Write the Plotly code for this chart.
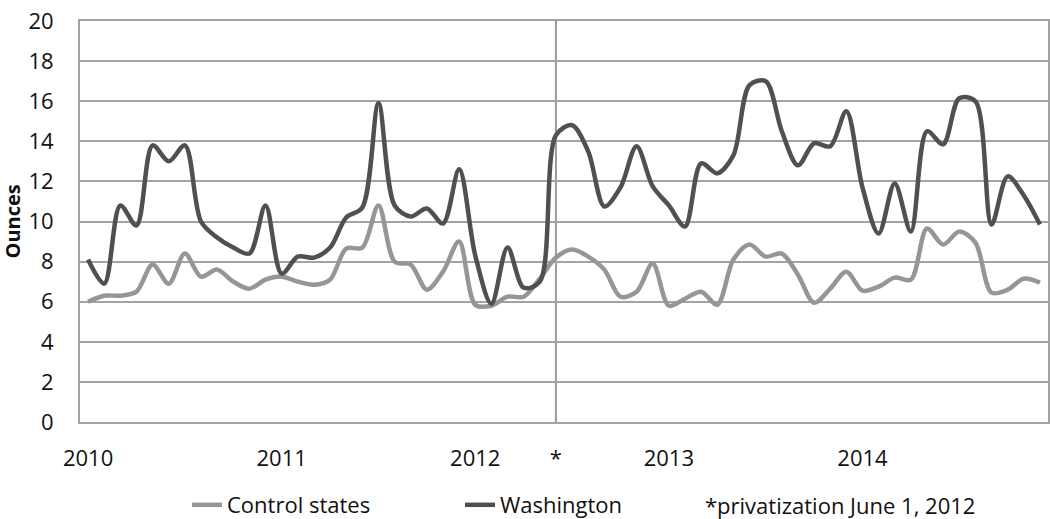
import plotly.graph_objects as go

# Monthly values, Jan 2010 .. Dec 2014 (60 months)
months = list(range(60))
control_states = [
    6.0, 6.3, 6.3, 6.5, 7.85, 6.9, 8.4, 7.25, 7.6, 7.0, 6.65, 7.1,
    7.25, 7.0, 6.85, 7.1, 8.65, 8.7, 10.8, 8.0, 7.85, 6.6, 7.5, 9.0,
    5.85, 5.8, 6.25, 6.25, 7.15, 8.2, 8.6, 8.25, 7.6, 6.25, 6.5, 7.9,
    5.8, 6.15, 6.5, 5.85, 8.1, 8.85, 8.25, 8.4, 7.35, 5.95, 6.65, 7.5,
    6.55, 6.75, 7.2, 7.1, 9.65, 8.85, 9.5, 8.95, 6.45, 6.6, 7.15, 6.95,
]
washington = [
    8.1, 6.9, 10.8, 9.8, 13.8, 13.0, 13.8, 10.0, 9.2, 8.7, 8.4, 10.8,
    7.4, 8.25, 8.2, 8.7, 10.2, 10.7, 15.9, 10.8, 10.25, 10.65, 9.9, 12.6,
    8.3, 5.9, 8.7, 6.7, 7.0, 14.3, 14.8, 13.5, 10.75, 11.7, 13.75, 11.75,
    10.8, 9.75, 12.9, 12.4, 13.3, 16.8, 17.0, 14.5, 12.8, 13.9, 13.75, 15.5,
    11.7, 9.4, 11.9, 9.5, 14.5, 13.85, 16.15, 16.0, 9.85, 12.25, 11.3, 9.85,
]
tick_positions = [0, 12, 24, 29, 36, 48]
tick_labels = ["2010", "2011", "2012", "*", "2013", "2014"]
privatization_month = 29
note_text = "*privatization June 1, 2012"
y_title = "<b>Ounces</b>"

FONT = "Open Sans"
GRID = "#a3a3a3"
TXT = "#111111"

fig = go.Figure()
fig.add_trace(go.Scatter(
    x=months, y=control_states, name="Control states", mode="lines",
    line=dict(color="#969696", width=4.5, shape="spline", smoothing=0.9),
))
fig.add_trace(go.Scatter(
    x=months, y=washington, name="Washington", mode="lines",
    line=dict(color="#505050", width=4.5, shape="spline", smoothing=0.9),
))

fig.add_shape(type="line", xref="x", yref="y",
              x0=privatization_month, x1=privatization_month, y0=0, y1=20,
              line=dict(color="#9a9a9a", width=2), layer="below")

fig.add_annotation(text=note_text, xref="paper", yref="paper",
                   x=(703 - 80) / 968, y=-0.207, xanchor="left", yanchor="middle",
                   showarrow=False, font=dict(family=FONT, size=22, color=TXT))
fig.add_annotation(text=y_title, xref="paper", yref="paper",
                   x=(12 - 80) / 968, y=0.5, xanchor="center", yanchor="middle",
                   textangle=-90, showarrow=False,
                   font=dict(family=FONT, size=20, color=TXT))

fig.update_layout(
    width=1050, height=519,
    margin=dict(l=80, r=2, t=21, b=97, autoexpand=False),
    paper_bgcolor="white", plot_bgcolor="white",
    font=dict(family=FONT, size=22, color=TXT),
    showlegend=True,
    legend=dict(orientation="h", x=(187 - 80) / 968, y=-0.207,
                xanchor="left", yanchor="middle",
                entrywidth=228, entrywidthmode="pixels",
                font=dict(family=FONT, size=22, color=TXT),
                bgcolor="rgba(0,0,0,0)"),
    xaxis=dict(range=[-0.5, 59.5], tickmode="array", tickvals=tick_positions,
               ticktext=tick_labels, showgrid=False, zeroline=False,
               showline=True, linecolor=GRID, linewidth=2, mirror=True,
               ticks="", ticklabelstandoff=16, automargin=False,
               ticklabeloverflow="allow",
               tickfont=dict(family=FONT, size=22, color=TXT)),
    yaxis=dict(range=[0, 20], dtick=2, showgrid=True, gridcolor=GRID, gridwidth=1.5,
               zeroline=False, showline=True, linecolor=GRID, linewidth=2, mirror=True,
               ticks="", ticklabelstandoff=20, automargin=False,
               ticklabeloverflow="allow",
               tickfont=dict(family=FONT, size=22, color=TXT)),
)

# remove the default page margin so the figure fills the window exactly
fig.write_html("out.html",
               config={"displayModeBar": False},
               post_script="document.body.style.margin='0';document.body.style.overflow='hidden';")
